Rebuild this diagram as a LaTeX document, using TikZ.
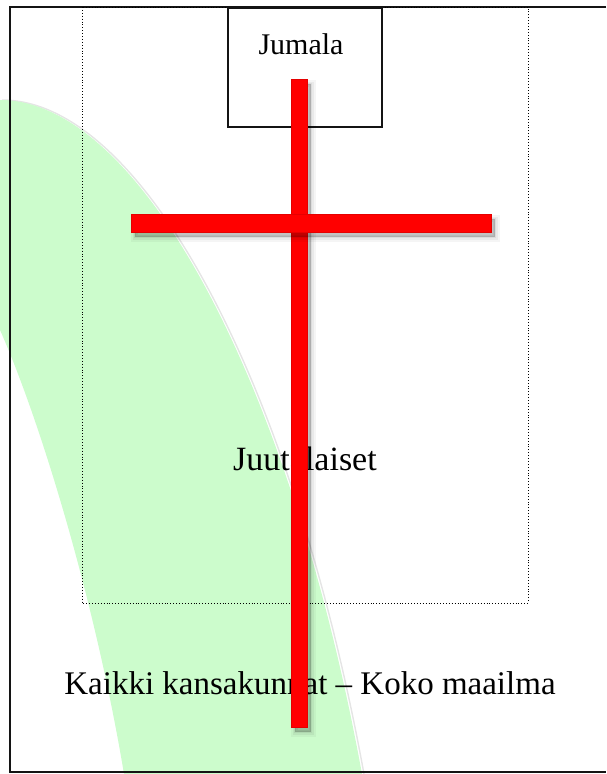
\documentclass[tikz,border=0pt]{standalone}
\usepackage{fontspec}
\setmainfont{Liberation Serif}
\definecolor{band}{RGB}{204,252,204}
\definecolor{framegray}{RGB}{20,20,20}
\begin{document}
\begin{tikzpicture}[x=1pt,y=-1pt,
  redbar/.style={rectangle, inner sep=0pt, fill=red, draw=red!90!black, line width=0.4pt,
    preaction={draw=black, fill=black, opacity=0.04, line width=9pt, transform canvas={xshift=4pt,yshift=-5pt}},
    preaction={draw=black, fill=black, opacity=0.05, line width=5pt, transform canvas={xshift=4pt,yshift=-5pt}},
    preaction={draw=black, fill=black, opacity=0.06, line width=2pt, transform canvas={xshift=4pt,yshift=-5pt}},
    preaction={fill=black, opacity=0.08, transform canvas={xshift=4pt,yshift=-5pt}}},
  framebox/.style={rectangle, draw=framegray, line width=1.6pt, inner sep=0pt},
  lbl/.style={anchor=base, inner sep=0pt, text=black}
]
\useasboundingbox (0,0) rectangle (606,774);
% green band
\draw[black!10, line width=1.4pt] (2,100) .. controls (142,100) and (292,380) .. (364,774);
\fill[band] (0,100) .. controls (140,100) and (290,380) .. (362,774) -- (124,774)
  .. controls (95,600) and (40,420) .. (0,330) -- cycle;
% outer frame
\draw[framegray, line width=1.6pt] (606,7) -- (10,7) -- (10,772) -- (606,772);
% dotted region
\draw[dotted, line width=0.9pt] (82,7) rectangle (528,603);
% Jumala box
\node[framebox, minimum width=154pt, minimum height=119pt, anchor=north west] (jumala) at (227,7) {};
\node[lbl, font=\fontsize{30}{36}\selectfont] (jumalaLabel) at (301,54) {Jumala};
% texts
\node[lbl, font=\fontsize{34}{40}\selectfont] (juut) at (305,470) {Juutalaiset};
\node[lbl, font=\fontsize{33}{40}\selectfont] (kaikki) at (310,694) {Kaikki kansakunnat -- Koko maailma};
% cross
\node[redbar, minimum width=16pt, minimum height=648pt] (vbar) at (299,403) {};
\node[redbar, minimum width=360pt, minimum height=18pt] (hbar) at (311,223) {};
\end{tikzpicture}
\end{document}
